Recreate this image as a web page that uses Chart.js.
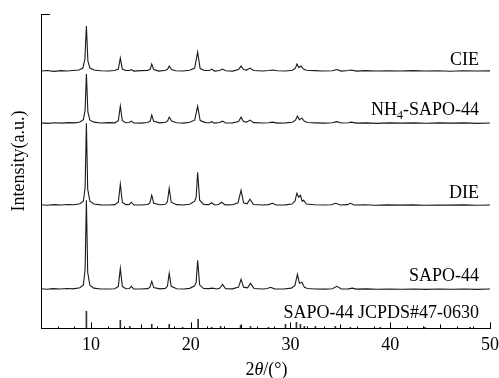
<!DOCTYPE html>
<html>
<head>
<meta charset="utf-8">
<script src="https://cdn.jsdelivr.net/npm/chart.js@4.4.1/dist/chart.umd.min.js"></script>
<style>
  html, body { margin: 0; padding: 0; background: #fff; }
  #wrap { width: 499px; height: 378px; position: relative; }
</style>
</head>
<body>
<div id="wrap"><canvas id="xrd"></canvas></div>
<script>
// 2θ (degrees) vs. intensity above each trace's own baseline (a.u.)
const cie = [[5,0],[5.6,0.5],[6.3,-0.3],[7,0.4],[7.6,0],[8.2,0.6],[8.8,1],[9.2,3],[9.4,12],[9.55,45],[9.7,10],[9.9,3],[10.3,1],[11,0.3],[11.7,0],[12.4,0.5],[12.75,2],[12.95,13],[13.15,2],[13.5,0.5],[13.9,0.5],[14.05,1.5],[14.3,0],[15,0.4],[15.7,0.5],[15.95,2],[16.1,7],[16.3,1.5],[16.8,0],[17.5,0.8],[17.7,2],[17.85,5],[18.1,1.5],[18.5,0.3],[19.2,0],[19.9,0.8],[20.4,3],[20.7,19],[20.95,2.5],[21.4,0.5],[21.9,0.5],[22.1,2],[22.4,0],[22.9,0.5],[23.2,2],[23.5,0.3],[24.2,0],[24.8,1.5],[25.05,5],[25.3,1.5],[25.6,1],[25.95,3],[26.3,0.5],[27.2,0],[27.8,0.5],[28.2,1],[28.7,0.3],[29.5,0],[30.2,0.8],[30.5,3],[30.65,7],[30.85,3.5],[31.05,5],[31.3,2],[31.6,0.8],[32.4,0.4],[33.3,0],[34.2,0.3],[34.65,1.5],[35.1,0],[35.8,0.5],[36.1,1],[36.6,0],[37.5,0.4],[38.6,0],[39.8,0.3],[41,0],[42.3,0.4],[43.5,0],[44.8,0.3],[46,-0.2],[47.3,0.3],[48.6,0],[50,0.2]];

const nh4Sapo44 = [[5,0.3],[5.7,-0.2],[6.4,0.4],[7.1,0],[7.8,0.5],[8.4,0.3],[8.9,1.2],[9.25,3.5],[9.42,13],[9.55,49],[9.7,11],[9.9,3],[10.3,1],[11,0.2],[11.8,0.5],[12.4,0.3],[12.75,2.5],[12.95,17],[13.15,2.5],[13.5,0.4],[13.85,0.6],[14.05,2],[14.3,0.2],[15,0],[15.7,0.6],[15.95,2],[16.1,8],[16.3,1.8],[16.9,0.3],[17.5,0.8],[17.7,2.5],[17.85,6],[18.1,2],[18.6,0.4],[19.3,0],[19.9,0.8],[20.4,3],[20.7,17],[20.95,2.5],[21.5,0.5],[21.9,0.4],[22.1,1.5],[22.4,0],[22.9,0.6],[23.2,2],[23.5,0.2],[24.2,0.3],[24.8,1.6],[25.05,6],[25.3,1.6],[25.6,1],[25.95,3],[26.3,0.5],[27.2,0.2],[27.8,0.4],[28.2,1],[28.7,0],[29.5,0.3],[30.2,0.9],[30.5,3],[30.7,7],[30.9,3.5],[31.15,5],[31.4,1.8],[31.7,0.6],[32.5,0.3],[33.4,0],[34.2,0.4],[34.65,1.5],[35.1,0.2],[35.8,0.4],[36.1,1],[36.6,0],[37.6,0.3],[38.7,-0.2],[39.9,0.3],[41.1,0],[42.4,0.3],[43.6,-0.1],[44.9,0.3],[46.1,0],[47.4,0.3],[48.7,-0.2],[50,0.2]];

const die = [[5,0.5],[5.6,0],[6.3,0.6],[7,0.2],[7.7,0.7],[8.3,0.5],[8.9,1.5],[9.25,4],[9.42,18],[9.55,82],[9.68,16],[9.9,4],[10.3,1.2],[11,0.4],[11.8,0.2],[12.4,0.6],[12.75,3],[12.95,21],[13.15,3],[13.5,0.6],[13.85,0.8],[14.05,3],[14.3,0.4],[15,0.2],[15.7,0.7],[15.92,2.5],[16.1,10],[16.3,2],[16.9,0.5],[17.45,1],[17.67,3.5],[17.85,17],[18.05,3],[18.6,0.6],[19.3,0.2],[19.9,1],[20.4,4],[20.55,8],[20.7,33],[20.9,5],[21.3,0.8],[21.8,0.6],[22.1,2.5],[22.4,0.3],[22.8,0.8],[23.1,3],[23.45,0.4],[24.2,0.5],[24.75,2.5],[25.05,15],[25.3,2.5],[25.65,1.4],[25.95,6],[26.3,0.8],[27.2,0.3],[27.8,0.6],[28.2,2],[28.6,0.2],[29.5,0.4],[30.15,1.2],[30.45,4],[30.65,12],[30.82,8],[31,10],[31.18,4],[31.32,5],[31.6,1.2],[32.4,0.5],[33.3,0.2],[34.1,0.5],[34.55,2],[35,0.3],[35.7,0.6],[36,2],[36.4,0.2],[37.4,0.5],[38.5,0],[39.7,0.4],[40.9,0.1],[42.2,0.4],[43.5,0],[44.8,0.3],[46,0.1],[47.3,0.4],[48.6,0],[50,0.3]];

const sapo44 = [[5,0.6],[5.6,0.1],[6.2,0.7],[6.9,0.3],[7.6,0.8],[8.2,0.5],[8.9,1.6],[9.25,4.5],[9.42,20],[9.55,89],[9.68,17],[9.9,4],[10.3,1.2],[11,0.4],[11.8,0.3],[12.4,0.6],[12.75,3],[12.95,21],[13.15,3],[13.5,0.6],[13.85,0.8],[14.05,3],[14.3,0.4],[15,0.3],[15.7,0.7],[15.92,2.2],[16.1,8],[16.3,1.8],[16.9,0.5],[17.45,1],[17.67,3],[17.85,16],[18.05,3],[18.6,0.6],[19.3,0.3],[19.9,1],[20.4,3.5],[20.55,7],[20.7,29],[20.9,4.5],[21.3,0.8],[21.8,0.7],[22.2,1.2],[22.6,0.3],[22.9,1],[23.2,5],[23.5,0.6],[24.2,0.5],[24.8,2.2],[25.05,10],[25.3,2.2],[25.7,1.5],[26,6],[26.35,0.8],[27.2,0.4],[27.7,0.8],[28,2],[28.4,0.5],[29.3,0.3],[30.1,1.2],[30.45,4],[30.7,15],[30.9,6],[31.15,7],[31.4,2],[31.7,0.8],[32.5,0.4],[33.4,0.2],[34.2,0.6],[34.65,3],[35.1,0.4],[35.8,0.5],[36.2,1.2],[36.6,0.2],[37.6,0.5],[38.7,0.1],[39.9,0.4],[41.1,0.1],[42.4,0.4],[43.6,0],[44.9,0.3],[46.1,0.1],[47.4,0.4],[48.7,0],[50,0.3]];

// SAPO-44 reference pattern, JCPDS#47-0630 (2θ, relative intensity)
const jcpds = [[9.55,17],[12.95,8],[13.9,2],[16.1,4],[17.85,4],[19.2,1],[20.75,9],[22.1,1],[23,2],[25,3],[26,2],[27.8,1],[29.5,4],[30.6,6],[31,4],[31.4,2],[32.5,2],[34.5,2],[36,1],[39,1],[43.5,1],[48,1]];

// vertical stacking offsets of the traces (a.u.)
const cieOffset = 257;
const nh4Offset = 205;
const dieOffset = 123;
const sapoOffset = 39;

const xTicks = [10, 20, 30, 40, 50];
const xMin = 5, xMax = 50;
const yMin = 0, yMax = 314;

const traceLabels = [
    { parts: [['CIE', false]], y: cieOffset + 6 },
    { parts: [['NH', false], ['4', true], ['-SAPO-44', false]], y: nh4Offset + 8 },
    { parts: [['DIE', false]], y: dieOffset + 7 },
    { parts: [['SAPO-44', false]], y: sapoOffset + 8.3 },
    { parts: [['SAPO-44 JCPDS#47-0630', false]], y: 10 }
];

const FONT = '"Liberation Serif", "Times New Roman", serif';
const INK = '#1a1a1a';

function stacked(points, offset) {
    return points.map(([x, y]) => ({ x: x, y: y + offset }));
}

function traceDataset(points, offset) {
    return {
        type: 'line',
        data: stacked(points, offset),
        borderColor: INK,
        borderWidth: 1.1,
        pointRadius: 0,
        tension: 0,
        fill: false
    };
}

// ticks, labels and axis titles drawn over the chart
const decor = {
    id: 'decor',
    afterDraw(chart) {
        const { ctx, chartArea: a, scales: { x, y } } = chart;
        ctx.save();
        ctx.strokeStyle = '#000';
        ctx.lineWidth = 1;

        // inward ticks along 2θ: every 5/3°, longer at 5° and 10°
        ctx.beginPath();
        for (let i = 0; i <= 27; i++) {
            const v = xMin + i * 5 / 3;
            const px = Math.round(x.getPixelForValue(v)) + 0.5;
            const len = i % 6 === 3 ? 6 : (i % 3 === 0 ? 4 : 2);
            ctx.moveTo(px, a.bottom);
            ctx.lineTo(px, a.bottom - len);
        }
        // single tick at the top of the intensity axis
        const ty = Math.round(y.getPixelForValue(yMax)) + 0.5;
        ctx.moveTo(a.left, ty);
        ctx.lineTo(a.left + 9, ty);
        ctx.stroke();

        ctx.fillStyle = '#000';
        ctx.textBaseline = 'alphabetic';
        ctx.textAlign = 'left';

        // trace labels, right aligned
        const right = x.getPixelForValue(48.9);
        traceLabels.forEach(lab => {
            let w = 0;
            lab.parts.forEach(([t, sub]) => {
                ctx.font = (sub ? '12px ' : '18px ') + FONT;
                w += ctx.measureText(t).width;
            });
            let cx = right - w;
            const by = y.getPixelForValue(lab.y);
            lab.parts.forEach(([t, sub]) => {
                ctx.font = (sub ? '12px ' : '18px ') + FONT;
                ctx.fillText(t, cx, sub ? by + 4 : by);
                cx += ctx.measureText(t).width;
            });
        });

        // x title: 2θ/(°)
        const xParts = [['2', ''], ['θ', 'italic '], ['/(°)', '']];
        let tw = 0;
        xParts.forEach(([t, st]) => { ctx.font = st + '18px ' + FONT; tw += ctx.measureText(t).width; });
        let tx = (a.left + a.right) / 2 + 1 - tw / 2;
        xParts.forEach(([t, st]) => {
            ctx.font = st + '18px ' + FONT;
            ctx.fillText(t, tx, 375);
            tx += ctx.measureText(t).width;
        });

        // y title
        ctx.translate(19, 161);
        ctx.rotate(-Math.PI / 2);
        ctx.font = '18px ' + FONT;
        ctx.textAlign = 'center';
        ctx.textBaseline = 'middle';
        ctx.fillText('Intensity(a.u.)', 0, 0);
        ctx.restore();
    }
};

const chart = new Chart(document.getElementById('xrd'), {
    type: 'line',
    data: {
        datasets: [
            traceDataset(cie, cieOffset),
            traceDataset(nh4Sapo44, nh4Offset),
            traceDataset(die, dieOffset),
            traceDataset(sapo44, sapoOffset),
            {
                type: 'bar',
                data: jcpds.map(([x, y]) => ({ x: x, y: y })),
                backgroundColor: '#333',
                borderWidth: 0,
                barThickness: 1,
                grouped: false
            }
        ]
    },
    options: {
        responsive: true,
        maintainAspectRatio: false,
        animation: false,
        devicePixelRatio: 1,
        layout: { padding: { top: 14, left: 41, right: 0, bottom: 16 } },
        plugins: {
            legend: { display: false },
            tooltip: { enabled: false }
        },
        scales: {
            x: {
                type: 'linear',
                min: xMin,
                max: xMax,
                offset: false,
                grid: { display: false, drawTicks: false },
                border: { display: true, color: '#000', width: 1 },
                ticks: {
                    color: '#000',
                    padding: 6,
                    maxRotation: 0,
                    font: { family: FONT, size: 18 }
                },
                afterBuildTicks: scale => {
                    scale.ticks = xTicks.map(v => ({ value: v }));
                },
                afterFit: scale => {
                    scale.paddingLeft = 0;
                    scale.paddingRight = 9;
                }
            },
            y: {
                type: 'linear',
                min: yMin,
                max: yMax,
                grid: { display: false, drawTicks: false },
                border: { display: true, color: '#000', width: 1 },
                ticks: { display: false }
            }
        }
    },
    plugins: [decor]
});
</script>
</body>
</html>
